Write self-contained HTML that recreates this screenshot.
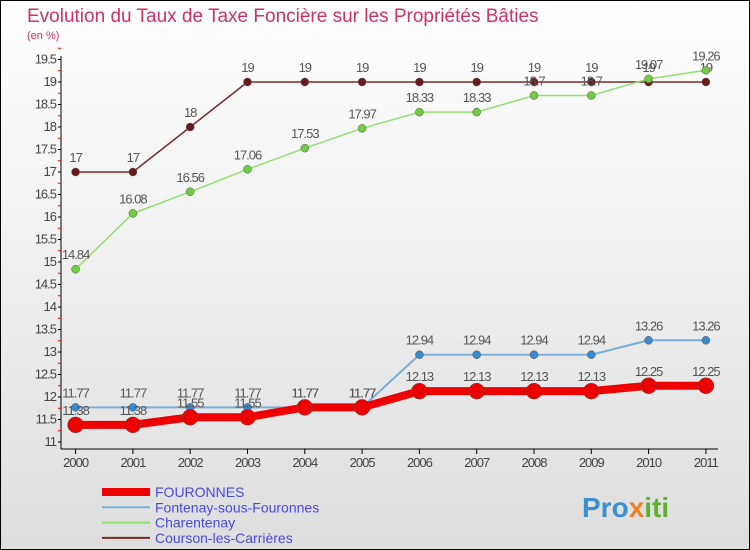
<!DOCTYPE html>
<html><head><meta charset="utf-8"><style>
body{margin:0;width:750px;height:550px;overflow:hidden;font-family:"Liberation Sans",sans-serif}
#wrap{position:absolute;left:0;top:0;width:748px;height:548px;border:1px solid #000;background:linear-gradient(#ffffff,#dedede)}
</style></head><body>
<div id="wrap">
<svg id="svg" width="750" height="550" style="position:absolute;left:-1px;top:-1px">
<text x="27" y="22" font-size="19" fill="#d0306a">Evolution du Taux de Taxe Foncière sur les Propriétés Bâties</text>
<text x="27" y="39" font-size="11" fill="#d0306a">(en %)</text>
<g id="axes"></g><g id="series"></g><g id="legend"></g>
<text x="582" y="517" font-size="28" font-weight="bold" fill="#3a8fd0">Pro<tspan fill="#f08020">x</tspan><tspan fill="#60b030">iti</tspan></text>
</svg></div>
<script>
const years=[2000,2001,2002,2003,2004,2005,2006,2007,2008,2009,2010,2011];
const fouronnes=[11.38,11.38,11.55,11.55,11.77,11.77,12.13,12.13,12.13,12.13,12.25,12.25];
const fontenay=[11.77,11.77,11.77,11.77,11.77,11.77,12.94,12.94,12.94,12.94,13.26,13.26];
const charentenay=[14.84,16.08,16.56,17.06,17.53,17.97,18.33,18.33,18.7,18.7,19.07,19.26];
const courson=[17,17,18,19,19,19,19,19,19,19,19,19];
const yTicks=[11,11.5,12,12.5,13,13.5,14,14.5,15,15.5,16,16.5,17,17.5,18,18.5,19,19.5];
const NS="http://www.w3.org/2000/svg";
const X=i=>75.6+i*57.3;
const Y=v=>442-(v-11)*45;
function mk(t,a,p){const e=document.createElementNS(NS,t);for(const k in a)e.setAttribute(k,a[k]);p.appendChild(e);return e;}
const ax=document.getElementById('axes');
const yl=mk('line',{x1:61,y1:56,x2:61,y2:449,stroke:'#000'},ax);

const xl=mk('line',{x1:61,y1:449,x2:718,y2:449,stroke:'#000'},ax);

yTicks.forEach(v=>{
 mk('line',{x1:58,y1:Y(v),x2:61,y2:Y(v),stroke:'#000'},ax);
 mk('line',{x1:58,y1:Y(v+0.25),x2:61,y2:Y(v+0.25),stroke:'#e00'},ax);
 const t=mk('text',{x:56,y:Y(v)+4,'font-size':13,'text-anchor':'end',fill:'#444','letter-spacing':'-1'},ax);t.textContent=v;
 
});
years.forEach((y,i)=>{
 mk('line',{x1:X(i),y1:449,x2:X(i),y2:454,stroke:'#000'},ax);
 const t=mk('text',{x:X(i),y:467,'font-size':13,'text-anchor':'middle',fill:'#444','letter-spacing':'-1'},ax);t.textContent=y;
 
});
const sg=document.getElementById('series');
function draw(vals,color,dot,w,r,name){
 const g=mk('g',{},sg);
 
 mk('polyline',{points:vals.map((v,i)=>X(i)+','+Y(v)).join(' '),fill:'none',stroke:color,'stroke-width':w},g);
 vals.forEach((v,i)=>{
  const c=mk('circle',{cx:X(i),cy:Y(v),r:r,fill:dot,stroke:'#555','stroke-width':0.5},g);
  
  const t=mk('text',{x:X(i),y:Y(v)-10,'font-size':13,'text-anchor':'middle',fill:'#555','letter-spacing':'-1'},g);t.textContent=v;
 });
}
draw(courson,'#7a2a2a','#6a1a1a',1.5,4,'courson-series');
draw(charentenay,'#90e070','#70cc40',1.5,4,'charentenay-series');
draw(fontenay,'#7aaed8','#3a8ad0',2,4,'fontenay-series');
draw(fouronnes,'#ee0000','#ee0000',8,8,'fouronnes-series');
const lg=document.getElementById('legend');
[['FOURONNES','#ee0000',8],['Fontenay-sous-Fouronnes','#7aaed8',2],['Charentenay','#90e070',2],['Courson-les-Carrières','#7a2a2a',2]].forEach((d,i)=>{
 const y=492+i*15.3;
 const g=mk('g',{},lg);
 
 mk('line',{x1:102,y1:y,x2:150,y2:y,stroke:d[1],'stroke-width':d[2]},g);
 const t=mk('text',{x:155,y:y+5,'font-size':14,fill:'#4a4adf'},g);t.textContent=d[0];
});
</script>
</body></html>
